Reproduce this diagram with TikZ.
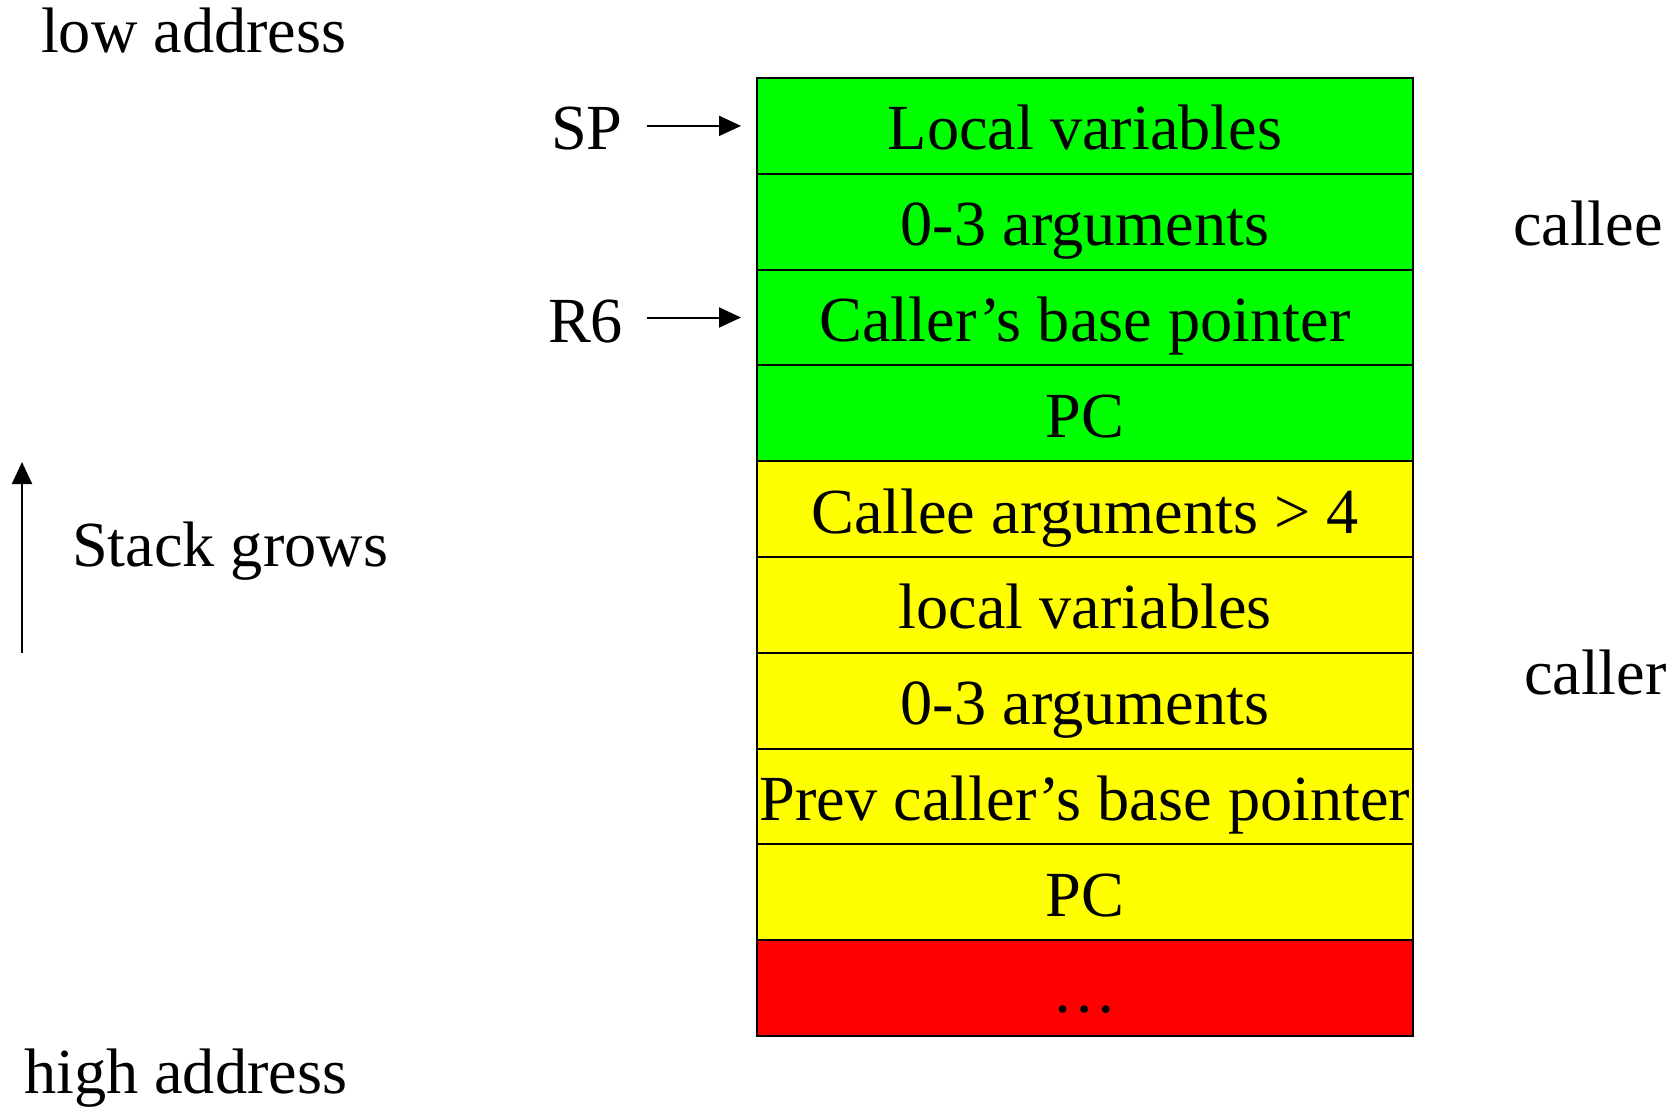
\documentclass[tikz,border=0pt]{standalone}
\usepackage{fontspec}
\setmainfont{Liberation Serif}
\usepackage{tikz}
\usetikzlibrary{arrows.meta}
\usetikzlibrary{positioning}
\definecolor{slotgreen}{RGB}{0,255,0}
\definecolor{slotyellow}{RGB}{255,255,0}
\definecolor{slotred}{RGB}{255,0,0}

\begin{document}
\begin{tikzpicture}[x=1pt,y=-1pt,>={Triangle[length=22pt,width=20pt]},line width=2pt,
					  every node/.style={font=\fontsize{64.3}{77}\selectfont},
					  slot/.style={draw,minimum width=656pt,minimum height=95.8pt,inner sep=0pt,outer sep=0pt,
					               text height=48pt,text depth=0pt},
					  lbl/.style={inner sep=0pt,anchor=base west},
					  ptr/.style={->,shorten <=23pt,shorten >=16pt}]

					  \useasboundingbox (0,0) rectangle (1675,1106);

					  \node[slot,fill=slotgreen,anchor=north west] (locals) at (757,78) {Local variables};
					  \node[slot,fill=slotgreen] (args) [below=0pt of locals] {0-3 arguments};
					  \node[slot,fill=slotgreen] (base) [below=0pt of args] {Caller’s base pointer};
					  \node[slot,fill=slotgreen] (pc) [below=0pt of base] {PC};
					  \node[slot,fill=slotyellow] (extra) [below=0pt of pc] {Callee arguments > 4};
					  \node[slot,fill=slotyellow] (clocals) [below=0pt of extra] {local variables};
					  \node[slot,fill=slotyellow] (cargs) [below=0pt of clocals] {0-3 arguments};
					  \node[slot,fill=slotyellow] (cbase) [below=0pt of cargs] {Prev caller’s base pointer};
					  \node[slot,fill=slotyellow] (cpc) [below=0pt of cbase] {PC};
					  \node[slot,fill=slotred] (rest) [below=0pt of cpc] {…};

					  \node[lbl] (low) at (40,52) {low address};
					  \node[lbl] (high) at (23,1093) {high address};
					  \node[lbl] (grows) at (71,566) {Stack grows};
					  \node[lbl] (sp) at (550,149) {SP};
					  \node[lbl] (rsix) at (547,342) {R6};
					  \node[lbl] (callee) at (1512,245) {callee};
					  \node[lbl] (caller) at (1523,694) {caller};

					  \coordinate (growtail) at (22,653);
					  \coordinate (growhead) at (22,462);

					  \draw[->] (growtail) -- (growhead);
					  \draw[ptr] (sp.east |- locals.west) -- (locals.west);
					  \draw[ptr] (rsix.east |- base.west) -- (base.west);
					\end{tikzpicture}
\end{document}
